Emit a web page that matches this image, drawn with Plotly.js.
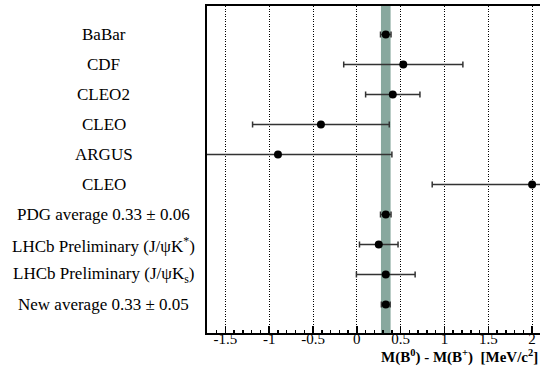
<!DOCTYPE html>
<html>
<head>
<meta charset="utf-8">
<script src="https://cdn.plot.ly/plotly-3.0.1.min.js"></script>
<style>html,body{margin:0;padding:0;background:#fff;}#chart{width:540px;height:370px;}</style>
</head>
<body>
<div id="chart"></div>
<script>
// Data (top to bottom)
const labels = [
  "BaBar",
  "CDF",
  "CLEO2",
  "CLEO",
  "ARGUS",
  "CLEO",
  "PDG average 0.33 \u00b1 0.06",
  "LHCb Preliminary (J/\u03c8K<sup>*</sup>)",
  "LHCb Preliminary (J/\u03c8K<sub>s</sub>)",
  "New average 0.33 \u00b1 0.05"
];
const values = [0.33, 0.53, 0.41, -0.41, -0.90, 2.00, 0.33, 0.25, 0.33, 0.33];
const errors = [0.06, 0.68, 0.31, 0.78, 1.30, 1.14, 0.06, 0.22, 0.335, 0.05];
const rows = [10, 9, 8, 7, 6, 5, 4, 3, 2, 1];
const bandCenter = 0.33;
const bandHalfWidth = 0.055;
const xTickVals = [-1.5, -1, -0.5, 0, 0.5, 1, 1.5, 2];
const xTickText = ["-1.5", "-1", "-0.5", "0", "0.5", "1", "1.5", "2"];

const serif = "Liberation Serif, Times New Roman, serif";

const trace = {
  type: "scatter",
  mode: "markers",
  x: values,
  y: rows,
  marker: {color: "#000", size: 8},
  error_x: {type: "data", array: errors, visible: true, color: "#333", thickness: 1.5, width: 3},
  cliponaxis: true,
  hoverinfo: "skip"
};

const annotations = labels.map((t, i) => ({
  text: t, xref: "paper", yref: "y", x: -0.31, y: rows[i],
  xanchor: "center", yanchor: "middle", showarrow: false,
  font: {family: serif, size: 17, color: "#000"}
}));
annotations.push({
  text: "<b>M(B<sup>0</sup>) - M(B<sup>+</sup>)  [MeV/c<sup>2</sup>]</b>",
  xref: "paper", yref: "paper", x: 1.0, y: -0.072,
  xanchor: "right", yanchor: "middle", showarrow: false,
  font: {family: serif, size: 15, color: "#000"}
});

const layout = {
  width: 540, height: 370,
  margin: {l: 207, r: 0, t: 6, b: 37},
  paper_bgcolor: "#fff", plot_bgcolor: "#fff",
  showlegend: false,
  font: {family: serif, size: 15, color: "#000"},
  xaxis: {
    range: [-1.71, 2.09],
    tickvals: xTickVals, ticktext: xTickText,
    ticks: "inside", ticklen: 7, tickwidth: 1.5, tickcolor: "#000",
    ticklabelstandoff: -9,
    minor: {dtick: 0.1, tick0: 0, ticks: "inside", ticklen: 3, tickwidth: 1.5, tickcolor: "#000", showgrid: false},
    showgrid: true, gridcolor: "#000", griddash: "1px,1.5px", gridwidth: 1,
    zeroline: false,
    showline: true, linecolor: "#000", linewidth: 2, mirror: true,
    tickfont: {family: serif, size: 15, color: "#000"},
    fixedrange: true
  },
  yaxis: {
    range: [0.05, 10.95],
    showticklabels: false, ticks: "", showgrid: false, zeroline: false,
    showline: true, linecolor: "#000", linewidth: 2, mirror: false,
    fixedrange: true
  },
  shapes: [{
    type: "rect", xref: "x", yref: "paper",
    x0: bandCenter - bandHalfWidth, x1: bandCenter + bandHalfWidth, y0: 0, y1: 1,
    fillcolor: "#88a89e", line: {width: 0}, layer: "below"
  }],
  annotations: annotations
};

Plotly.newPlot("chart", [trace], layout, {displayModeBar: false, staticPlot: true});
</script>
</body>
</html>
